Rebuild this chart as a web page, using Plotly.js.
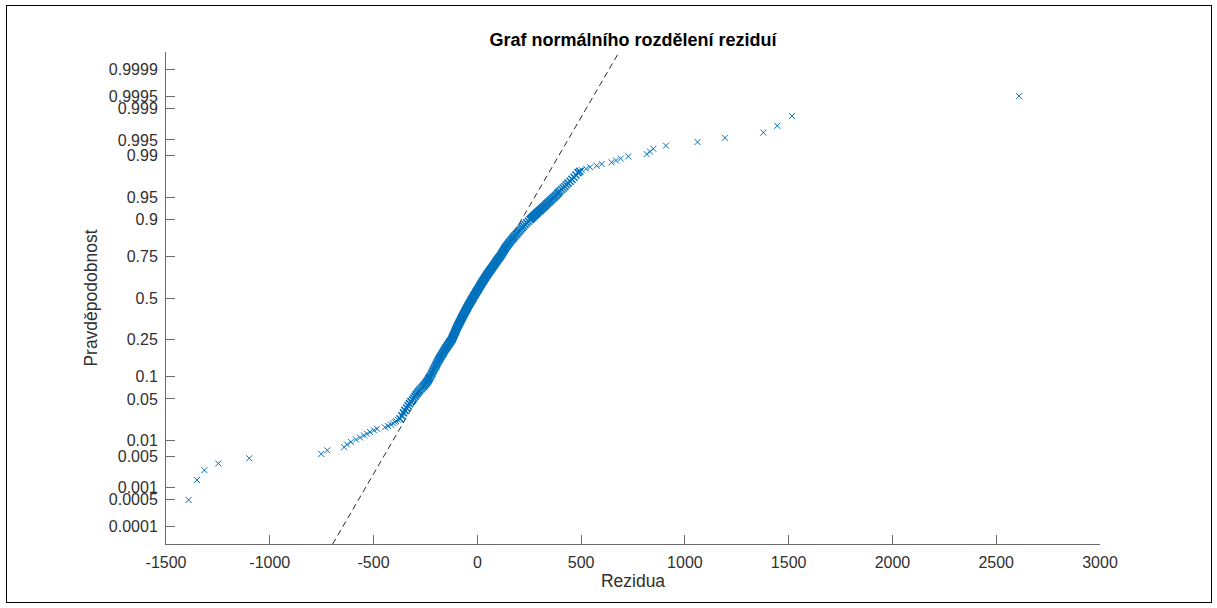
<!DOCTYPE html>
<html><head><meta charset="utf-8">
<script src="https://cdn.plot.ly/plotly-3.0.1.min.js"></script>
<style>
html,body{margin:0;padding:0;background:#fff;}
#chart{width:1217px;height:608px;}
#frame{position:absolute;left:6px;top:5px;width:1204px;height:596px;border:1px solid #000;pointer-events:none;}
</style>
</head><body>
<div id="chart"></div><div id="frame"></div>
<script>
// Sorted residuals and their ranks in the sorted sample of N values
const N = 1000;
const poradi = [
 1,2,3,4,5,6,7,8,9,10,11,12,13,14,15,16,17,18,19,20,21,22,23,24,
 25,28,31,34,37,40,43,46,49,52,55,58,61,64,67,70,73,76,79,82,85,88,91,94,97,100,
 105,110,115,120,125,130,135,140,145,150,155,160,165,170,175,180,185,190,195,200,
 205,210,215,220,225,230,235,240,245,250,255,260,265,270,275,280,285,290,295,300,
 305,310,315,320,325,330,335,340,345,350,355,360,365,370,375,380,385,390,395,400,
 405,410,415,420,425,430,435,440,445,450,455,460,465,470,475,480,485,490,495,500,
 505,510,515,520,525,530,535,540,545,550,555,560,565,570,575,580,585,590,595,600,
 605,610,615,620,625,630,635,640,645,650,655,660,665,670,675,680,685,690,695,700,
 705,710,715,720,725,730,735,740,745,750,755,760,765,770,775,780,785,790,795,800,
 805,810,815,820,825,830,835,840,845,850,855,860,865,870,875,880,885,890,895,
 900,902,904,906,908,910,912,914,916,918,920,922,924,926,928,930,932,934,936,938,
 940,942,944,946,948,950,952,954,956,958,960,962,964,966,968,970,972,974,976,978,980,
 981,982,983,984,985,986,987,988,989,990,991,992,993,994,995,996,997,998,999,1000
];
const rezidua = [
 -1391,-1351,-1315,-1248,-1099,-752,-723,-642,-628,-609,-585,-565,-546,-532,-517,-498,-483,-445,-430,-416,-406,-397,-392,-382,
 -373,-364,-356,-349,-341,-334,-327,-320,-312,-306,-300,-295,-289,-283,-277,-271,-265,-259,-254,-249,-245,-241,-237,-234,-231,-228,
 -223,-219,-215,-212,-208,-204,-200,-197,-194,-191,-187,-184,-180,-177,-173,-170,-166,-163,-160,-157,
 -153,-150,-146,-143,-139,-136,-133,-130,-126,-123,-121,-119,-117,-115,-113,-111,-109,-107,-105,-104,
 -102,-100,-98,-96,-94,-92,-90,-88,-86,-84,-82,-80,-78,-76,-74,-72,-70,-68,-66,-64,
 -62,-60,-58,-56,-54,-52,-50,-48,-46,-44,-42,-40,-37,-35,-33,-31,-29,-27,-24,-22,
 -20,-18,-16,-14,-11,-9,-7,-5,-2,0,2,5,7,9,11,14,16,18,20,23,
 25,28,30,33,35,38,40,43,45,48,51,54,56,59,62,65,68,71,74,77,
 80,83,86,89,92,95,98,102,105,109,112,115,118,121,124,127,130,133,136,140,
 144,148,152,157,161,166,171,176,181,187,192,198,204,210,216,223,230,238,246,
 254,258,262,265,269,273,277,281,284,288,292,297,302,306,311,316,321,326,330,335,
 340,346,351,357,363,369,375,381,387,392,398,406,414,422,429,437,447,456,466,475,485,
 493,503,524,543,575,599,647,668,691,727,816,832,848,909,1061,1193,1378,1445,1516,2610
];
// Probability axis ticks
const pTicks = [0.0001,0.0005,0.001,0.005,0.01,0.05,0.1,0.25,0.5,0.75,0.9,0.95,0.99,0.995,0.999,0.9995,0.9999];
const pTickLabels = ['0.0001','0.0005','0.001','0.005','0.01','0.05','0.1','0.25','0.5','0.75','0.9','0.95','0.99','0.995','0.999','0.9995','0.9999'];
const xTicks = [-1500,-1000,-500,0,500,1000,1500,2000,2500,3000];
const xTickLabels = ['-1500','-1000','-500','0','500','1000','1500','2000','2500','3000'];

// inverse standard normal CDF (Acklam) -> probability-paper scale
function norminv(p){
  const a=[-3.969683028665376e+01,2.209460984245205e+02,-2.759285104469687e+02,1.383577518672690e+02,-3.066479806614716e+01,2.506628277459239e+00];
  const b=[-5.447609879822406e+01,1.615858368580409e+02,-1.556989798598866e+02,6.680131188771972e+01,-1.328068155288572e+01];
  const c=[-7.784894002430293e-03,-3.223964580411365e-01,-2.400758277161838e+00,-2.549732539343734e+00,4.374664141464968e+00,2.938163982698783e+00];
  const d=[7.784695709041462e-03,3.224671290700398e-01,2.445134137142996e+00,3.754408661907416e+00];
  const pl=0.02425, ph=1-pl; let q,r;
  if(p<pl){q=Math.sqrt(-2*Math.log(p));return (((((c[0]*q+c[1])*q+c[2])*q+c[3])*q+c[4])*q+c[5])/((((d[0]*q+d[1])*q+d[2])*q+d[3])*q+1);}
  if(p<=ph){q=p-0.5;r=q*q;return (((((a[0]*r+a[1])*r+a[2])*r+a[3])*r+a[4])*r+a[5])*q/(((((b[0]*r+b[1])*r+b[2])*r+b[3])*r+b[4])*r+1);}
  q=Math.sqrt(-2*Math.log(1-p));return -(((((c[0]*q+c[1])*q+c[2])*q+c[3])*q+c[4])*q+c[5])/((((d[0]*q+d[1])*q+d[2])*q+d[3])*q+1);
}
// normplot plotting positions
const prob = poradi.map(i => (i-0.5)/N);
const zData = prob.map(norminv);

// reference line through the 1st and 3rd quartiles of the data
function quant(pp){
  for(let k=1;k<prob.length;k++){
    if(prob[k]>=pp){const t=(pp-prob[k-1])/(prob[k]-prob[k-1]);return rezidua[k-1]+t*(rezidua[k]-rezidua[k-1]);}
  }
  return rezidua[rezidua.length-1];
}
const q1=quant(0.25), q3=quant(0.75);
const z1=norminv(0.25), z3=norminv(0.75);
const sig=(q3-q1)/(z3-z1), mu=q1-sig*z1;
const yRange=[-4.01,4.01];
const lineZ=[yRange[0],yRange[1]];
const lineX=lineZ.map(z=>mu+sig*z);

// dense body vs. sparse tails (only a styling split)
const dense = poradi.map(i => i>=25 && i<=981);
const pick = (arr,flag) => arr.filter((v,k)=>dense[k]===flag);

const font='"Liberation Sans", Arial, Helvetica, sans-serif';
const blue='#0072BD';
const traces=[
 {type:'scatter',mode:'lines',x:lineX,y:lineZ,line:{color:'#2a2a2a',width:1,dash:'6px,4px'},hoverinfo:'skip',showlegend:false},
 {type:'scatter',mode:'markers',x:pick(rezidua,true),y:pick(zData,true),marker:{symbol:'x-thin-open',size:7,color:blue,line:{color:blue,width:1.6}},showlegend:false},
 {type:'scatter',mode:'markers',x:pick(rezidua,false),y:pick(zData,false),marker:{symbol:'x-thin-open',size:6,color:blue,line:{color:blue,width:1}},showlegend:false}
];
const axCommon={showgrid:false,zeroline:false,showline:true,linecolor:'#6b6b6b',linewidth:1,ticks:'inside',ticklen:9,tickwidth:1,tickcolor:'#6b6b6b',
  tickfont:{family:font,size:16,color:'#303030'},mirror:false,fixedrange:true};
const layout={
  width:1217,height:608,
  paper_bgcolor:'#fff',plot_bgcolor:'#fff',
  margin:{l:166,r:117,t:52,b:64},
  title:{text:'<b>Graf normálního rozdělení reziduí</b>',font:{family:font,size:18,color:'#000'},xref:'container',xanchor:'center',y:1-40/608,yref:'container',yanchor:'middle'},
  xaxis:Object.assign({},axCommon,{range:[-1500,3000],tickmode:'array',tickvals:xTicks,ticktext:xTickLabels,ticklabelstandoff:4,
     title:{text:'Rezidua',font:{family:font,size:17.5,color:'#303030'},standoff:4}}),
  yaxis:Object.assign({},axCommon,{range:yRange,tickmode:'array',tickvals:pTicks.map(norminv),ticktext:pTickLabels,ticklabelstandoff:4,
     title:{text:'Pravděpodobnost',font:{family:font,size:17.5,color:'#303030'},standoff:6}}),
  showlegend:false
};
layout.title.x=(166+(1217-117))/2/1217;
Plotly.newPlot('chart',traces,layout,{displayModeBar:false,staticPlot:true});
</script>
</body></html>
